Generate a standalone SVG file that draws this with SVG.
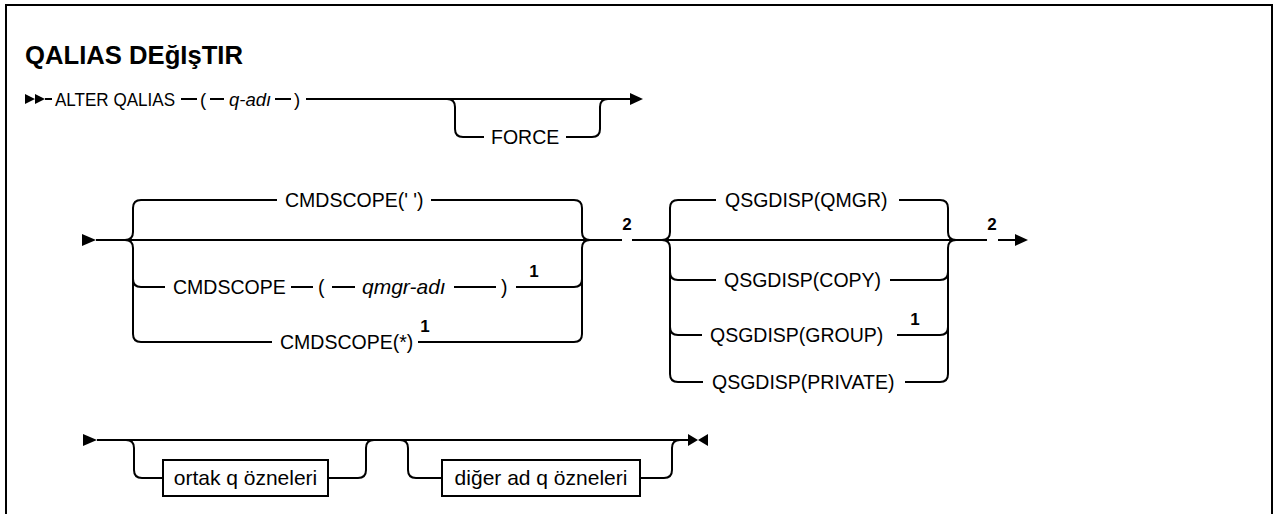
<svg xmlns="http://www.w3.org/2000/svg" width="1276" height="514" viewBox="0 0 1276 514">
<style>
.t{font-family:"Liberation Sans",Arial,sans-serif;font-size:19.5px;fill:#000}
.r1{font-size:18.5px}
.i{font-style:italic}
.c{text-anchor:middle}
.bx{font-size:21px}
.h{font-family:"Liberation Sans",Arial,sans-serif;font-size:25px;font-weight:bold;fill:#000}
.n{font-family:"Liberation Sans",Arial,sans-serif;font-size:17px;font-weight:bold;fill:#000;text-anchor:middle}
.l{fill:none;stroke:#000;stroke-width:2}
.a{fill:#000}
.b{fill:#fff;stroke:#000;stroke-width:2}
</style>
<rect width="1276" height="514" fill="#fff"/>
<path class="l" d="M6,514 V5 H1272 V514"/>
<g id="title"><text class="h" x="25" y="64" textLength="218" lengthAdjust="spacingAndGlyphs">QALIAS DEğIşTIR</text></g>

<g id="connectors">
  <!-- row 1 -->
  <path class="a" d="M25,94 L35,99 L25,104 Z M35,94 L45,99 L35,104 Z"/>
  <path class="l" d="M45,99 H52 M181,99 H197 M210,99 H224 M275,99 H291 M306,99 H632"/>
  <path class="a" d="M630,93 L643,99 L630,105 Z"/>
  <path class="l" d="M447,99 Q455,99 455,107 V129 Q455,137 463,137 H484 M566,137 H592 Q600,137 600,129 V107 Q600,99 608,99"/>
  <!-- row 2 -->
  <path class="a" d="M82,234 L96,240 L82,246 Z"/>
  <path class="l" d="M96,240 H622 M632,240 H987 M998,240 H1016"/>
  <path class="a" d="M1015,234 L1028,240 L1015,246 Z"/>
  <!-- group 1 -->
  <path class="l" d="M125,240 Q133,240 133,232 V208 Q133,200 141,200 H277 M431,200 H574 Q582,200 582,208 V232 Q582,240 590,240"/>
  <path class="l" d="M125,240 Q133,240 133,248 V334 Q133,342 141,342 H272 M418,342 H574 Q582,342 582,334 V248 Q582,240 590,240"/>
  <path class="l" d="M133,279 Q133,287 141,287 H165 M291,287 H313 M332,287 H355 M454,287 H496 M516,287 H574 Q582,287 582,279"/>
  <!-- group 2 -->
  <path class="l" d="M662,240 Q670,240 670,232 V208 Q670,200 678,200 H716 M899,200 H940 Q948,200 948,208 V232 Q948,240 956,240"/>
  <path class="l" d="M662,240 Q670,240 670,248 V374 Q670,382 678,382 H703 M905,382 H940 Q948,382 948,374 V248 Q948,240 956,240"/>
  <path class="l" d="M670,272 Q670,280 678,280 H716 M890,280 H940 Q948,280 948,272"/>
  <path class="l" d="M670,327 Q670,335 678,335 H702 M897,335 H940 Q948,335 948,327"/>
  <!-- row 3 -->
  <path class="a" d="M83,434 L97,440 L83,446 Z"/>
  <path class="l" d="M97,440 H691"/>
  <path class="a" d="M688,434 L698,440 L688,446 Z M708,434 L698,440 L708,446 Z"/>
  <path class="l" d="M126,440 Q134,440 134,448 V470 Q134,478 142,478 H163 M328,478 H358 Q366,478 366,470 V448 Q366,440 374,440"/>
  <path class="l" d="M400,440 Q408,440 408,448 V470 Q408,478 416,478 H442 M640,478 H664 Q672,478 672,470 V448 Q672,440 680,440"/>
</g>

<g id="n-alter"><text class="t r1" x="55" y="106" textLength="120" lengthAdjust="spacingAndGlyphs">ALTER QALIAS</text></g>
<g id="n-qadi"><text class="t r1" x="200" y="106">(</text><text class="t r1 i" x="229" y="106">q-adı</text><text class="t r1" x="294" y="106">)</text></g>
<g id="n-force"><text class="t" x="491" y="144">FORCE</text></g>

<g id="n-cmd-blank"><text class="t" x="285" y="207">CMDSCOPE(' ')</text></g>
<g id="n-cmd-qmgr"><text class="t" x="173" y="294">CMDSCOPE</text><text class="t" x="318" y="294">(</text><text class="t bx i" x="362" y="294">qmgr-adı</text><text class="t" x="501" y="294">)</text><text class="n" x="534" y="277">1</text></g>
<g id="n-cmd-star"><text class="t" x="280" y="349">CMDSCOPE(*)</text><text class="n" x="425" y="332">1</text></g>
<g id="fn-2a"><text class="n" x="627" y="230">2</text></g>

<g id="n-qmgr"><text class="t" x="725" y="207">QSGDISP(QMGR)</text></g>
<g id="n-copy"><text class="t" x="724" y="287">QSGDISP(COPY)</text></g>
<g id="n-group"><text class="t" x="710" y="342">QSGDISP(GROUP)</text><text class="n" x="915" y="325">1</text></g>
<g id="n-private"><text class="t" x="712" y="389">QSGDISP(PRIVATE)</text></g>
<g id="fn-2b"><text class="n" x="992" y="230">2</text></g>

<g id="n-ortak"><rect class="b" x="163" y="460" width="165" height="36"/><text class="t bx c" x="245.5" y="485">ortak q özneleri</text></g>
<g id="n-diger"><rect class="b" x="442" y="460" width="198" height="36"/><text class="t bx c" x="541" y="485">diğer ad q özneleri</text></g>
</svg>
